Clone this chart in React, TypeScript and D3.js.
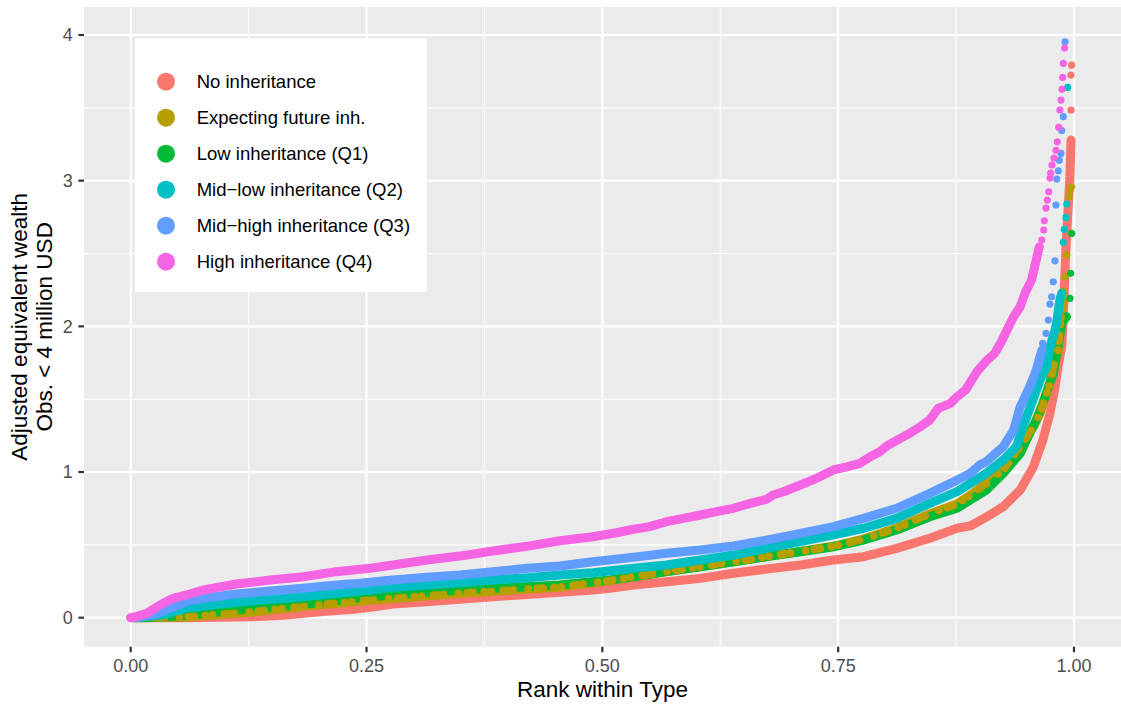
import React from 'react';
import * as d3 from 'd3';

// ---------- data ----------
const seriesNames = [
  'No inheritance',
  'Expecting future inh.',
  'Low inheritance (Q1)',
  'Mid\u2212low inheritance (Q2)',
  'Mid\u2212high inheritance (Q3)',
  'High inheritance (Q4)',
];
const seriesColors = ['#F8766D', '#B79F00', '#00BA38', '#00BFC4', '#619CFF', '#F564E3'];

const xTicks = [0, 0.25, 0.5, 0.75, 1];
const xTickLabels = ['0.00', '0.25', '0.50', '0.75', '1.00'];
const xMinor = [0.125, 0.375, 0.625, 0.875];
const yTicks = [0, 1, 2, 3, 4];
const yTickLabels = ['0', '1', '2', '3', '4'];
const yMinor = [0.5, 1.5, 2.5, 3.5];

// No inheritance
const noInhRank = [0, 0.057, 0.13, 0.165, 0.2, 0.236, 0.254, 0.278, 0.314, 0.349, 0.384, 0.42, 0.455, 0.49, 0.508, 0.533, 0.568, 0.604, 0.639, 0.674, 0.71, 0.745, 0.777, 0.812, 0.847, 0.876, 0.89, 0.9, 0.907, 0.925, 0.943, 0.957, 0.967, 0.9745, 0.98, 0.983, 0.987, 0.9887, 0.9894, 0.99, 0.9915, 0.9925, 0.994, 0.9957, 0.9968];
const noInhValue = [0, 0, 0.007, 0.019, 0.041, 0.058, 0.071, 0.094, 0.11, 0.126, 0.144, 0.16, 0.174, 0.19, 0.202, 0.224, 0.247, 0.27, 0.305, 0.334, 0.362, 0.396, 0.419, 0.476, 0.545, 0.614, 0.63, 0.665, 0.69, 0.762, 0.876, 1.036, 1.22, 1.403, 1.585, 1.723, 1.86, 2.089, 2.181, 2.306, 2.546, 2.661, 2.833, 3.027, 3.279];
const noInhTailRank = [0.9968, 0.9968, 0.9975];
const noInhTailValue = [3.485, 3.725, 3.793];

// Expecting future inheritance
const expRank = [0.005, 0.06, 0.13, 0.2, 0.254, 0.349, 0.455, 0.508, 0.568, 0.639, 0.71, 0.745, 0.777, 0.812, 0.847, 0.876, 0.89, 0.907, 0.925, 0.943, 0.957, 0.964, 0.9745, 0.98, 0.983, 0.9887];
const expValue = [0, 0.005, 0.04, 0.088, 0.12, 0.167, 0.21, 0.255, 0.316, 0.384, 0.455, 0.49, 0.54, 0.615, 0.712, 0.78, 0.84, 0.922, 1.014, 1.174, 1.311, 1.403, 1.609, 1.769, 1.837, 2.237];
const expTailRank = [0.9905, 0.9923, 0.995, 0.9957, 0.9975];
const expTailValue = [2.34, 2.489, 2.889, 2.936, 2.958];

// Low inheritance (Q1)
const q1Rank = [0.01, 0.06, 0.095, 0.13, 0.165, 0.2, 0.236, 0.254, 0.3, 0.349, 0.455, 0.508, 0.533, 0.568, 0.604, 0.639, 0.674, 0.71, 0.745, 0.777, 0.812, 0.847, 0.876, 0.89, 0.907, 0.925, 0.943, 0.953, 0.96, 0.967, 0.9728, 0.978, 0.983, 0.987, 0.992];
const q1Value = [0, 0.015, 0.041, 0.065, 0.08, 0.103, 0.133, 0.144, 0.167, 0.19, 0.224, 0.259, 0.281, 0.316, 0.35, 0.384, 0.419, 0.453, 0.487, 0.533, 0.602, 0.693, 0.751, 0.808, 0.876, 0.991, 1.128, 1.266, 1.357, 1.471, 1.585, 1.677, 1.86, 2.021, 2.066];
const q1TailRank = [0.9957, 0.9965, 0.9975];
const q1TailValue = [2.192, 2.364, 2.638];

// Mid-low inheritance (Q2)
const q2Rank = [0.005, 0.035, 0.059, 0.095, 0.13, 0.165, 0.2, 0.236, 0.254, 0.278, 0.314, 0.349, 0.384, 0.42, 0.455, 0.49, 0.533, 0.568, 0.604, 0.639, 0.674, 0.71, 0.745, 0.777, 0.812, 0.847, 0.876, 0.89, 0.907, 0.925, 0.939, 0.946, 0.955, 0.964, 0.971, 0.9745, 0.98, 0.982, 0.985, 0.987];
const q2Value = [0, 0.02, 0.065, 0.094, 0.117, 0.133, 0.156, 0.178, 0.19, 0.209, 0.224, 0.24, 0.259, 0.275, 0.293, 0.309, 0.339, 0.362, 0.396, 0.43, 0.476, 0.522, 0.568, 0.614, 0.682, 0.785, 0.865, 0.922, 0.991, 1.082, 1.174, 1.311, 1.471, 1.631, 1.723, 1.86, 1.975, 2.043, 2.181, 2.227];
const q2TailRank = [0.9887, 0.9897, 0.9915, 0.9923, 0.9933];
const q2TailValue = [2.577, 2.666, 2.748, 2.84, 3.64];

// Mid-high inheritance (Q3)
const q3Rank = [0.005, 0.024, 0.042, 0.059, 0.077, 0.112, 0.148, 0.183, 0.218, 0.243, 0.278, 0.314, 0.349, 0.384, 0.42, 0.455, 0.49, 0.533, 0.568, 0.604, 0.639, 0.674, 0.71, 0.745, 0.777, 0.812, 0.847, 0.869, 0.883, 0.89, 0.9, 0.907, 0.925, 0.936, 0.943, 0.953, 0.96, 0.966];
const q3Value = [0, 0.02, 0.065, 0.11, 0.133, 0.163, 0.183, 0.202, 0.224, 0.236, 0.259, 0.277, 0.293, 0.316, 0.339, 0.355, 0.384, 0.415, 0.442, 0.465, 0.492, 0.533, 0.579, 0.625, 0.682, 0.751, 0.854, 0.922, 0.968, 0.991, 1.048, 1.071, 1.174, 1.288, 1.448, 1.585, 1.7, 1.837];
const q3TailRank = [0.9668, 0.9703, 0.9728, 0.9745, 0.9763, 0.978, 0.9798, 0.9809, 0.9817, 0.9834, 0.9844, 0.9862, 0.987, 0.9887, 0.9905];
const q3TailValue = [1.883, 1.952, 2.043, 2.153, 2.203, 2.306, 2.45, 2.833, 3.011, 3.068, 3.141, 3.187, 3.343, 3.439, 3.953];

// High inheritance (Q4)
const q4Rank = [0, 0.003, 0.017, 0.031, 0.045, 0.059, 0.077, 0.112, 0.148, 0.183, 0.218, 0.254, 0.278, 0.314, 0.349, 0.384, 0.42, 0.455, 0.49, 0.515, 0.533, 0.55, 0.568, 0.586, 0.604, 0.621, 0.639, 0.657, 0.674, 0.681, 0.692, 0.71, 0.727, 0.745, 0.759, 0.773, 0.784, 0.794, 0.803, 0.816, 0.826, 0.837, 0.847, 0.856, 0.869, 0.876, 0.885, 0.897, 0.908, 0.916, 0.923, 0.929, 0.936, 0.943, 0.948, 0.955, 0.9632];
const q4Value = [0, 0.003, 0.03, 0.087, 0.133, 0.156, 0.19, 0.231, 0.259, 0.281, 0.316, 0.339, 0.362, 0.396, 0.423, 0.458, 0.49, 0.528, 0.556, 0.583, 0.607, 0.625, 0.659, 0.682, 0.705, 0.728, 0.751, 0.785, 0.813, 0.842, 0.865, 0.911, 0.957, 1.014, 1.036, 1.06, 1.105, 1.139, 1.185, 1.231, 1.266, 1.311, 1.357, 1.437, 1.471, 1.517, 1.563, 1.688, 1.769, 1.815, 1.894, 1.975, 2.066, 2.135, 2.227, 2.318, 2.546];
const q4TailRank = [0.9658, 0.9679, 0.9685, 0.9703, 0.9717, 0.9732, 0.9746, 0.9753, 0.9767, 0.9788, 0.9809, 0.9823, 0.9838, 0.9851, 0.9862, 0.9873, 0.988, 0.9887, 0.99];
const q4TailValue = [2.592, 2.661, 2.725, 2.812, 2.867, 2.924, 3.018, 3.052, 3.107, 3.155, 3.209, 3.267, 3.366, 3.485, 3.553, 3.627, 3.709, 3.805, 3.91];

const coreRanks = [noInhRank, expRank, q1Rank, q2Rank, q3Rank, q4Rank];
const coreValues = [noInhValue, expValue, q1Value, q2Value, q3Value, q4Value];
const tailRanks = [noInhTailRank, expTailRank, q1TailRank, q2TailRank, q3TailRank, q4TailRank];
const tailValues = [noInhTailValue, expTailValue, q1TailValue, q2TailValue, q3TailValue, q4TailValue];

// ---------- layout ----------
const W = 1121;
const H = 709;
const PANEL = { left: 84, right: 1121, top: 7, bottom: 646.7 };
const FONT = '"Liberation Sans", Arial, Helvetica, sans-serif';
const PT_R = 3.6;
const BAND_W = 9;

export default function App() {
  const x = d3.scaleLinear().domain([0, 1]).range([130.7, 1074]);
  const y = d3.scaleLinear().domain([0, 4]).range([617.7, 35]);
  const line = d3
    .line<[number, number]>()
    .x((d) => x(d[0]))
    .y((d) => y(d[1]))
    .curve(d3.curveLinear);

  const series = seriesNames.map((name, i) => ({
    name,
    color: seriesColors[i],
    core: coreRanks[i].map((r, j) => [r, coreValues[i][j]] as [number, number]),
    tail: tailRanks[i].map((r, j) => [r, tailValues[i][j]] as [number, number]),
  }));

  const legendX = 135;
  const legendY = 38.5;
  const legendW = 291.7;
  const legendH = 253.5;
  const keyX = 166;
  const keyY0 = 81.7;
  const keyStep = 36;

  return (
    <svg
      width={W}
      height={H}
      style={{ position: 'absolute', left: 0, top: 0, background: '#fff' }}
      fontFamily={FONT}
    >
      <rect x={PANEL.left} y={PANEL.top} width={PANEL.right - PANEL.left} height={PANEL.bottom - PANEL.top} fill="#EBEBEB" />
      {/* minor grid */}
      {xMinor.map((t) => (
        <line key={'xm' + t} x1={x(t)} x2={x(t)} y1={PANEL.top} y2={PANEL.bottom} stroke="#fff" strokeWidth={1.1} />
      ))}
      {yMinor.map((t) => (
        <line key={'ym' + t} x1={PANEL.left} x2={PANEL.right} y1={y(t)} y2={y(t)} stroke="#fff" strokeWidth={1.1} />
      ))}
      {/* major grid */}
      {xTicks.map((t) => (
        <line key={'xM' + t} x1={x(t)} x2={x(t)} y1={PANEL.top} y2={PANEL.bottom} stroke="#fff" strokeWidth={2.2} />
      ))}
      {yTicks.map((t) => (
        <line key={'yM' + t} x1={PANEL.left} x2={PANEL.right} y1={y(t)} y2={y(t)} stroke="#fff" strokeWidth={2.2} />
      ))}

      {/* series */}
      {series.map((s, i) => (
        <g key={s.name}>
          <path d={line(s.core) || ''} fill="none" stroke={s.color} strokeWidth={BAND_W} strokeLinecap="round" strokeLinejoin="round" />
          {s.tail.map((p, j) => (
            <circle key={j} cx={x(p[0])} cy={y(p[1])} r={PT_R} fill={s.color} />
          ))}
          {i === 2 && (
            <path
              d={line(series[1].core) || ''}
              fill="none"
              stroke={series[1].color}
              strokeWidth={8}
              strokeLinecap="round"
              strokeDasharray="0 7 0 12 4 6 0 15 0 9 6 11"
            />
          )}
        </g>
      ))}

      {/* legend */}
      <rect x={legendX} y={legendY} width={legendW} height={legendH} fill="#fff" />
      {series.map((s, i) => (
        <g key={'lg' + i}>
          <circle cx={keyX} cy={keyY0 + i * keyStep} r={9} fill={s.color} />
          <text x={196.7} y={keyY0 + i * keyStep} dy="0.35em" fontSize={18.5} fill="#000">
            {s.name}
          </text>
        </g>
      ))}

      {/* axes ticks */}
      {xTicks.map((t, i) => (
        <g key={'xt' + t}>
          <line x1={x(t)} x2={x(t)} y1={PANEL.bottom} y2={PANEL.bottom + 5.6} stroke="#333" strokeWidth={2.2} />
          <text x={x(t)} y={671.5} textAnchor="middle" fontSize={18} fill="#4D4D4D">
            {xTickLabels[i]}
          </text>
        </g>
      ))}
      {yTicks.map((t, i) => (
        <g key={'yt' + t}>
          <line x1={PANEL.left - 5.6} x2={PANEL.left} y1={y(t)} y2={y(t)} stroke="#333" strokeWidth={2.2} />
          <text x={72.7} y={y(t)} dy="0.35em" textAnchor="end" fontSize={18} fill="#4D4D4D">
            {yTickLabels[i]}
          </text>
        </g>
      ))}

      {/* axis titles */}
      <text x={(PANEL.left + PANEL.right) / 2} y={697} textAnchor="middle" fontSize={22.5} fill="#000">
        Rank within Type
      </text>
      <g transform={`translate(0, ${(PANEL.top + PANEL.bottom) / 2}) rotate(-90)`}>
        <text x={0} y={27} textAnchor="middle" fontSize={22.5} fill="#000">
          Adjusted equivalent wealth
        </text>
        <text x={0} y={52} textAnchor="middle" fontSize={22.5} fill="#000">
          Obs. &lt; 4 million USD
        </text>
      </g>
    </svg>
  );
}
